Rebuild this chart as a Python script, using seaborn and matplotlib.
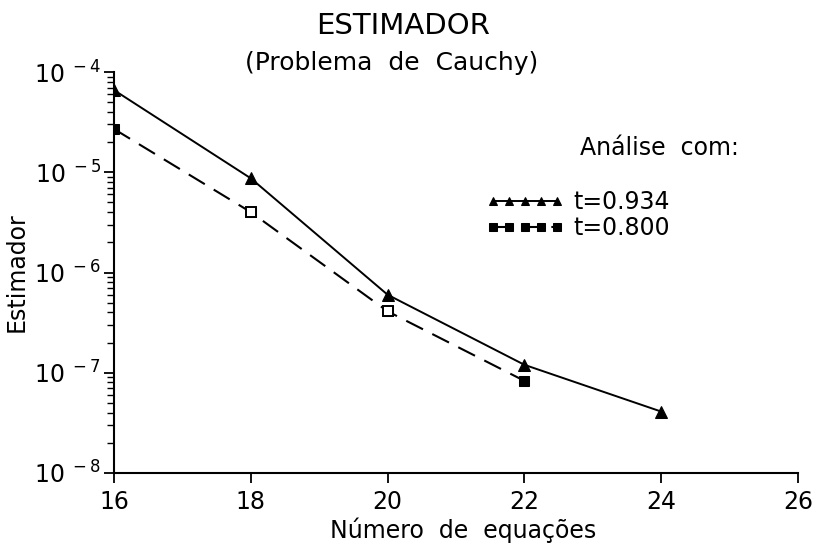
import matplotlib
matplotlib.use("Agg")
import matplotlib.pyplot as plt
import seaborn as sns
import pandas as pd
from matplotlib.ticker import LogLocator, FuncFormatter, NullFormatter
import numpy as np

# ---- data ----
n_934 = [16, 18, 20, 22, 24]
est_934 = [6.6e-5, 8.7e-6, 6.0e-7, 1.2e-7, 4.1e-8]
n_800 = [16, 18, 20, 22]
est_800 = [2.7e-5, 4.0e-6, 4.1e-7, 8.3e-8]
open_800 = [False, True, True, False]
x_ticks = [16, 18, 20, 22, 24, 26]
label_934 = "t=0.934"
label_800 = "t=0.800"

sns.set_theme(style="ticks")
plt.rcParams['font.family'] = ['DejaVu Sans']
plt.rcParams['mathtext.fontset'] = 'dejavusans'
plt.rcParams['text.color'] = 'black'
plt.rcParams['axes.labelcolor'] = 'black'

fig = plt.figure(figsize=(8.25, 5.45), dpi=100)
ax = fig.add_axes([114/825, 1-473/545, (798-114)/825, (473-72)/545])

df934 = pd.DataFrame({"n": n_934, "est": est_934})
df800 = pd.DataFrame({"n": n_800, "est": est_800})

sns.lineplot(data=df934, x="n", y="est", ax=ax, color="black", lw=1.4,
             marker="^", markersize=8.5, markeredgecolor="black", label=label_934)
sns.lineplot(data=df800, x="n", y="est", ax=ax, color="black", lw=1.5,
             linestyle=(0, (9, 5)), marker="s", markersize=7,
             markeredgecolor="black", label=label_800)
# open markers
op = df800[pd.Series(open_800)]
ax.plot(op["n"], op["est"], linestyle="none", marker="s", markersize=7,
        markerfacecolor="white", markeredgecolor="black", markeredgewidth=1.4, zorder=5)

ax.set_yscale("log")
ax.set_ylim(1e-8, 1e-4)
ax.set_xlim(16, 26)
ax.set_xticks(x_ticks)
ax.set_xticklabels([str(t) for t in x_ticks])
ax.yaxis.set_major_locator(LogLocator(base=10, numticks=10))
ax.yaxis.set_minor_locator(LogLocator(base=10, subs=range(2, 10), numticks=20))
ax.yaxis.set_major_formatter(FuncFormatter(
    lambda v, p: r"$10^{\ %d}$" % int(round(np.log10(v)))))
ax.yaxis.set_minor_formatter(NullFormatter())

for s in ["top", "right"]:
    ax.spines[s].set_visible(False)
for s in ["left", "bottom"]:
    ax.spines[s].set_linewidth(1.5)
    ax.spines[s].set_color("black")

ax.tick_params(axis="both", which="major", direction="out", length=7, width=1.3,
               labelsize=17, colors="black")
ax.tick_params(axis="y", which="minor", direction="out", length=5, width=1.0,
               colors="black")
ax.tick_params(axis="x", which="major", pad=5)
ax.tick_params(axis="y", which="major", pad=2)

ax.set_xlabel("Número  de  equações", fontsize=17, labelpad=0)
ax.set_ylabel("Estimador", fontsize=17, labelpad=4)
ax.xaxis.set_label_coords(0.51, -0.11)

fig.text(0.488, 0.952, "ESTIMADOR", ha="center", va="center", fontsize=21)
fig.text(0.475, 0.885, "(Problema  de  Cauchy)", ha="center", va="center", fontsize=18)

ax.text(0.681, 0.81, "Análise  com:", transform=ax.transAxes, ha="left",
        va="center", fontsize=17)

leg = ax.legend(loc="upper left", bbox_to_anchor=(0.527, 0.735), frameon=False,
                numpoints=5, markerscale=0.75, handlelength=3.3, handletextpad=0.4,
                fontsize=17, labelspacing=0.1, borderpad=0)

fig.savefig("out.png", dpi=100)
